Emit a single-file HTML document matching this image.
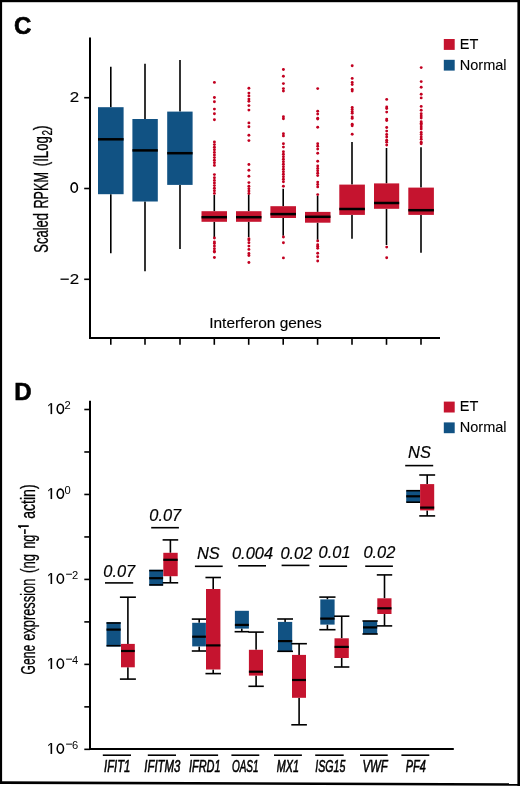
<!DOCTYPE html>
<html><head><meta charset="utf-8"><style>
html,body{margin:0;padding:0;background:#fff;width:520px;height:786px;overflow:hidden;}
svg{position:absolute;left:0;top:0;will-change:transform;}
</style></head><body>

<svg width="520" height="786" viewBox="0 0 520 786">
<text x="14" y="33.6" font-family='"Liberation Sans", sans-serif' font-weight="bold" font-size="24" stroke="#000" stroke-width="0.6">C</text>
<line x1="90" y1="37.4" x2="90" y2="339" stroke="#000" stroke-width="2"/>
<line x1="89" y1="338" x2="440" y2="338" stroke="#000" stroke-width="2"/>
<line x1="84.2" y1="97.7" x2="90" y2="97.7" stroke="#000" stroke-width="1.6"/>
<text x="69.65" y="102.45" font-family='"Liberation Sans", sans-serif' font-size="15.2" stroke="#000" stroke-width="0.15" textLength="9.4" lengthAdjust="spacingAndGlyphs">2</text>
<line x1="84.2" y1="188.5" x2="90" y2="188.5" stroke="#000" stroke-width="1.6"/>
<ellipse cx="74.25" cy="187.6" rx="3.15" ry="4.7" stroke="#000" stroke-width="1.6" fill="none"/>
<line x1="84.2" y1="279.3" x2="90" y2="279.3" stroke="#000" stroke-width="1.6"/>
<text x="69.65" y="284.05" font-family='"Liberation Sans", sans-serif' font-size="15.2" stroke="#000" stroke-width="0.15" textLength="9.4" lengthAdjust="spacingAndGlyphs">2</text>
<line x1="60.5" y1="279.2" x2="68.8" y2="279.2" stroke="#000" stroke-width="1.3"/>
<line x1="110.8" y1="66.7" x2="110.8" y2="107.2" stroke="#000" stroke-width="1.6"/>
<line x1="110.8" y1="194.2" x2="110.8" y2="253.2" stroke="#000" stroke-width="1.6"/>
<rect x="98.0" y="107.2" width="25.6" height="87.0" fill="#115283"/>
<line x1="98.0" y1="139.3" x2="123.6" y2="139.3" stroke="#000" stroke-width="2.5"/>
<line x1="110.8" y1="339" x2="110.8" y2="344.8" stroke="#000" stroke-width="1.6"/>
<line x1="145.0" y1="63.8" x2="145.0" y2="119.0" stroke="#000" stroke-width="1.6"/>
<line x1="145.0" y1="201.5" x2="145.0" y2="271.2" stroke="#000" stroke-width="1.6"/>
<rect x="132.4" y="119.0" width="25.4" height="82.5" fill="#115283"/>
<line x1="132.4" y1="150.4" x2="157.8" y2="150.4" stroke="#000" stroke-width="2.5"/>
<line x1="145.0" y1="339" x2="145.0" y2="344.8" stroke="#000" stroke-width="1.6"/>
<line x1="180.0" y1="59.9" x2="180.0" y2="111.6" stroke="#000" stroke-width="1.6"/>
<line x1="180.0" y1="184.9" x2="180.0" y2="249.1" stroke="#000" stroke-width="1.6"/>
<rect x="167.2" y="111.6" width="25.4" height="73.3" fill="#115283"/>
<line x1="167.2" y1="153.2" x2="192.6" y2="153.2" stroke="#000" stroke-width="2.5"/>
<line x1="180.0" y1="339" x2="180.0" y2="344.8" stroke="#000" stroke-width="1.6"/>
<line x1="214.3" y1="195.0" x2="214.3" y2="211.2" stroke="#000" stroke-width="1.6"/>
<line x1="214.3" y1="221.8" x2="214.3" y2="237.0" stroke="#000" stroke-width="1.6"/>
<rect x="201.5" y="211.2" width="25.5" height="10.6" fill="#C5142F"/>
<line x1="201.5" y1="217.2" x2="227.0" y2="217.2" stroke="#000" stroke-width="2.5"/>
<line x1="214.3" y1="339" x2="214.3" y2="344.8" stroke="#000" stroke-width="1.6"/>
<line x1="248.7" y1="194.5" x2="248.7" y2="211.2" stroke="#000" stroke-width="1.6"/>
<line x1="248.7" y1="221.8" x2="248.7" y2="237.0" stroke="#000" stroke-width="1.6"/>
<rect x="236.0" y="211.2" width="25.5" height="10.6" fill="#C5142F"/>
<line x1="236.0" y1="217.2" x2="261.5" y2="217.2" stroke="#000" stroke-width="2.5"/>
<line x1="248.7" y1="339" x2="248.7" y2="344.8" stroke="#000" stroke-width="1.6"/>
<line x1="283.2" y1="188.7" x2="283.2" y2="206.2" stroke="#000" stroke-width="1.6"/>
<line x1="283.2" y1="218.0" x2="283.2" y2="235.8" stroke="#000" stroke-width="1.6"/>
<rect x="270.4" y="206.2" width="25.6" height="11.8" fill="#C5142F"/>
<line x1="270.4" y1="214.1" x2="296.0" y2="214.1" stroke="#000" stroke-width="2.5"/>
<line x1="283.2" y1="339" x2="283.2" y2="344.8" stroke="#000" stroke-width="1.6"/>
<line x1="317.6" y1="195.7" x2="317.6" y2="211.9" stroke="#000" stroke-width="1.6"/>
<line x1="317.6" y1="222.7" x2="317.6" y2="239.8" stroke="#000" stroke-width="1.6"/>
<rect x="305.0" y="211.9" width="25.5" height="10.8" fill="#C5142F"/>
<line x1="305.0" y1="216.8" x2="330.5" y2="216.8" stroke="#000" stroke-width="2.5"/>
<line x1="317.6" y1="339" x2="317.6" y2="344.8" stroke="#000" stroke-width="1.6"/>
<line x1="352.0" y1="142.1" x2="352.0" y2="184.6" stroke="#000" stroke-width="1.6"/>
<line x1="352.0" y1="214.9" x2="352.0" y2="238.8" stroke="#000" stroke-width="1.6"/>
<rect x="339.3" y="184.6" width="25.6" height="30.3" fill="#C5142F"/>
<line x1="339.3" y1="209.0" x2="364.9" y2="209.0" stroke="#000" stroke-width="2.5"/>
<line x1="352.0" y1="339" x2="352.0" y2="344.8" stroke="#000" stroke-width="1.6"/>
<line x1="386.5" y1="148.0" x2="386.5" y2="183.4" stroke="#000" stroke-width="1.6"/>
<line x1="386.5" y1="208.8" x2="386.5" y2="245.0" stroke="#000" stroke-width="1.6"/>
<rect x="374.0" y="183.4" width="25.2" height="25.4" fill="#C5142F"/>
<line x1="374.0" y1="203.0" x2="399.2" y2="203.0" stroke="#000" stroke-width="2.5"/>
<line x1="386.5" y1="339" x2="386.5" y2="344.8" stroke="#000" stroke-width="1.6"/>
<line x1="421.0" y1="147.3" x2="421.0" y2="187.6" stroke="#000" stroke-width="1.6"/>
<line x1="421.0" y1="214.9" x2="421.0" y2="252.8" stroke="#000" stroke-width="1.6"/>
<rect x="408.3" y="187.6" width="25.6" height="27.3" fill="#C5142F"/>
<line x1="408.3" y1="210.2" x2="433.9" y2="210.2" stroke="#000" stroke-width="2.5"/>
<line x1="421.0" y1="339" x2="421.0" y2="344.8" stroke="#000" stroke-width="1.6"/>
<circle cx="214.4" cy="82.4" r="1.45" fill="#C20020"/>
<circle cx="214.4" cy="97.5" r="1.45" fill="#C20020"/>
<circle cx="214.4" cy="101.7" r="1.45" fill="#C20020"/>
<circle cx="214.4" cy="109.1" r="1.45" fill="#C20020"/>
<circle cx="214.4" cy="113.8" r="1.45" fill="#C20020"/>
<circle cx="214.4" cy="119.7" r="1.45" fill="#C20020"/>
<circle cx="214.4" cy="142.0" r="1.45" fill="#C20020"/>
<circle cx="214.4" cy="144.6" r="1.45" fill="#C20020"/>
<circle cx="214.4" cy="147.2" r="1.45" fill="#C20020"/>
<circle cx="214.4" cy="149.8" r="1.45" fill="#C20020"/>
<circle cx="214.4" cy="152.4" r="1.45" fill="#C20020"/>
<circle cx="214.4" cy="155.0" r="1.45" fill="#C20020"/>
<circle cx="214.4" cy="157.6" r="1.45" fill="#C20020"/>
<circle cx="214.4" cy="160.2" r="1.45" fill="#C20020"/>
<circle cx="214.4" cy="162.8" r="1.45" fill="#C20020"/>
<circle cx="214.4" cy="165.4" r="1.45" fill="#C20020"/>
<circle cx="214.4" cy="174.6" r="1.45" fill="#C20020"/>
<circle cx="214.4" cy="177.8" r="1.45" fill="#C20020"/>
<circle cx="214.4" cy="180.4" r="1.45" fill="#C20020"/>
<circle cx="214.4" cy="183.0" r="1.45" fill="#C20020"/>
<circle cx="214.4" cy="185.6" r="1.45" fill="#C20020"/>
<circle cx="214.4" cy="188.2" r="1.45" fill="#C20020"/>
<circle cx="214.4" cy="190.8" r="1.45" fill="#C20020"/>
<circle cx="214.4" cy="193.4" r="1.45" fill="#C20020"/>
<circle cx="214.4" cy="238.0" r="1.45" fill="#C20020"/>
<circle cx="214.4" cy="242.0" r="1.45" fill="#C20020"/>
<circle cx="214.4" cy="243.6" r="1.45" fill="#C20020"/>
<circle cx="214.4" cy="246.1" r="1.45" fill="#C20020"/>
<circle cx="214.4" cy="248.8" r="1.45" fill="#C20020"/>
<circle cx="214.4" cy="251.2" r="1.45" fill="#C20020"/>
<circle cx="214.4" cy="252.1" r="1.45" fill="#C20020"/>
<circle cx="214.4" cy="257.5" r="1.45" fill="#C20020"/>
<circle cx="248.9" cy="88.2" r="1.45" fill="#C20020"/>
<circle cx="248.9" cy="93.1" r="1.45" fill="#C20020"/>
<circle cx="248.9" cy="95.9" r="1.45" fill="#C20020"/>
<circle cx="248.9" cy="99.1" r="1.45" fill="#C20020"/>
<circle cx="248.9" cy="101.2" r="1.45" fill="#C20020"/>
<circle cx="248.9" cy="105.6" r="1.45" fill="#C20020"/>
<circle cx="248.9" cy="110.1" r="1.45" fill="#C20020"/>
<circle cx="248.9" cy="122.9" r="1.45" fill="#C20020"/>
<circle cx="248.9" cy="126.7" r="1.45" fill="#C20020"/>
<circle cx="248.9" cy="135.3" r="1.45" fill="#C20020"/>
<circle cx="248.9" cy="140.6" r="1.45" fill="#C20020"/>
<circle cx="248.9" cy="164.5" r="1.45" fill="#C20020"/>
<circle cx="248.9" cy="170.3" r="1.45" fill="#C20020"/>
<circle cx="248.9" cy="176.3" r="1.45" fill="#C20020"/>
<circle cx="248.9" cy="182.6" r="1.45" fill="#C20020"/>
<circle cx="248.9" cy="186.3" r="1.45" fill="#C20020"/>
<circle cx="248.9" cy="188.7" r="1.45" fill="#C20020"/>
<circle cx="248.9" cy="191.1" r="1.45" fill="#C20020"/>
<circle cx="248.9" cy="193.5" r="1.45" fill="#C20020"/>
<circle cx="248.9" cy="238.7" r="1.45" fill="#C20020"/>
<circle cx="248.9" cy="240.0" r="1.45" fill="#C20020"/>
<circle cx="248.9" cy="242.7" r="1.45" fill="#C20020"/>
<circle cx="248.9" cy="246.1" r="1.45" fill="#C20020"/>
<circle cx="248.9" cy="249.4" r="1.45" fill="#C20020"/>
<circle cx="248.9" cy="253.5" r="1.45" fill="#C20020"/>
<circle cx="248.9" cy="255.5" r="1.45" fill="#C20020"/>
<circle cx="248.9" cy="262.5" r="1.45" fill="#C20020"/>
<circle cx="283.4" cy="69.5" r="1.45" fill="#C20020"/>
<circle cx="283.4" cy="76.2" r="1.45" fill="#C20020"/>
<circle cx="283.4" cy="83.6" r="1.45" fill="#C20020"/>
<circle cx="283.4" cy="88.6" r="1.45" fill="#C20020"/>
<circle cx="283.4" cy="91.0" r="1.45" fill="#C20020"/>
<circle cx="283.4" cy="116.8" r="1.45" fill="#C20020"/>
<circle cx="283.4" cy="118.8" r="1.45" fill="#C20020"/>
<circle cx="283.4" cy="133.7" r="1.45" fill="#C20020"/>
<circle cx="283.4" cy="135.9" r="1.45" fill="#C20020"/>
<circle cx="283.4" cy="143.8" r="1.45" fill="#C20020"/>
<circle cx="283.4" cy="147.1" r="1.45" fill="#C20020"/>
<circle cx="283.4" cy="151.8" r="1.45" fill="#C20020"/>
<circle cx="283.4" cy="154.3" r="1.45" fill="#C20020"/>
<circle cx="283.4" cy="156.8" r="1.45" fill="#C20020"/>
<circle cx="283.4" cy="159.3" r="1.45" fill="#C20020"/>
<circle cx="283.4" cy="161.8" r="1.45" fill="#C20020"/>
<circle cx="283.4" cy="164.3" r="1.45" fill="#C20020"/>
<circle cx="283.4" cy="166.8" r="1.45" fill="#C20020"/>
<circle cx="283.4" cy="169.3" r="1.45" fill="#C20020"/>
<circle cx="283.4" cy="171.8" r="1.45" fill="#C20020"/>
<circle cx="283.4" cy="174.3" r="1.45" fill="#C20020"/>
<circle cx="283.4" cy="176.8" r="1.45" fill="#C20020"/>
<circle cx="283.4" cy="179.3" r="1.45" fill="#C20020"/>
<circle cx="283.4" cy="181.8" r="1.45" fill="#C20020"/>
<circle cx="283.4" cy="186.2" r="1.45" fill="#C20020"/>
<circle cx="283.4" cy="237.0" r="1.45" fill="#C20020"/>
<circle cx="283.4" cy="242.8" r="1.45" fill="#C20020"/>
<circle cx="283.4" cy="257.9" r="1.45" fill="#C20020"/>
<circle cx="317.7" cy="88.6" r="1.45" fill="#C20020"/>
<circle cx="317.7" cy="111.2" r="1.45" fill="#C20020"/>
<circle cx="317.7" cy="114.1" r="1.45" fill="#C20020"/>
<circle cx="317.7" cy="118.2" r="1.45" fill="#C20020"/>
<circle cx="317.7" cy="119.1" r="1.45" fill="#C20020"/>
<circle cx="317.7" cy="127.2" r="1.45" fill="#C20020"/>
<circle cx="317.7" cy="143.8" r="1.45" fill="#C20020"/>
<circle cx="317.7" cy="146.3" r="1.45" fill="#C20020"/>
<circle cx="317.7" cy="149.1" r="1.45" fill="#C20020"/>
<circle cx="317.7" cy="153.2" r="1.45" fill="#C20020"/>
<circle cx="317.7" cy="161.3" r="1.45" fill="#C20020"/>
<circle cx="317.7" cy="166.0" r="1.45" fill="#C20020"/>
<circle cx="317.7" cy="168.4" r="1.45" fill="#C20020"/>
<circle cx="317.7" cy="170.8" r="1.45" fill="#C20020"/>
<circle cx="317.7" cy="173.2" r="1.45" fill="#C20020"/>
<circle cx="317.7" cy="175.6" r="1.45" fill="#C20020"/>
<circle cx="317.7" cy="182.1" r="1.45" fill="#C20020"/>
<circle cx="317.7" cy="184.5" r="1.45" fill="#C20020"/>
<circle cx="317.7" cy="186.9" r="1.45" fill="#C20020"/>
<circle cx="317.7" cy="194.6" r="1.45" fill="#C20020"/>
<circle cx="317.7" cy="240.9" r="1.45" fill="#C20020"/>
<circle cx="317.7" cy="244.8" r="1.45" fill="#C20020"/>
<circle cx="317.7" cy="246.2" r="1.45" fill="#C20020"/>
<circle cx="317.7" cy="248.2" r="1.45" fill="#C20020"/>
<circle cx="317.7" cy="253.3" r="1.45" fill="#C20020"/>
<circle cx="317.7" cy="256.7" r="1.45" fill="#C20020"/>
<circle cx="317.7" cy="261.0" r="1.45" fill="#C20020"/>
<circle cx="352.2" cy="65.7" r="1.45" fill="#C20020"/>
<circle cx="352.2" cy="78.4" r="1.45" fill="#C20020"/>
<circle cx="352.2" cy="82.5" r="1.45" fill="#C20020"/>
<circle cx="352.2" cy="84.6" r="1.45" fill="#C20020"/>
<circle cx="352.2" cy="89.4" r="1.45" fill="#C20020"/>
<circle cx="352.2" cy="91.1" r="1.45" fill="#C20020"/>
<circle cx="352.2" cy="107.4" r="1.45" fill="#C20020"/>
<circle cx="352.2" cy="109.5" r="1.45" fill="#C20020"/>
<circle cx="352.2" cy="111.6" r="1.45" fill="#C20020"/>
<circle cx="352.2" cy="113.3" r="1.45" fill="#C20020"/>
<circle cx="352.2" cy="116.9" r="1.45" fill="#C20020"/>
<circle cx="352.2" cy="118.4" r="1.45" fill="#C20020"/>
<circle cx="352.2" cy="124.3" r="1.45" fill="#C20020"/>
<circle cx="352.2" cy="125.8" r="1.45" fill="#C20020"/>
<circle cx="352.2" cy="134.3" r="1.45" fill="#C20020"/>
<circle cx="386.7" cy="99.4" r="1.45" fill="#C20020"/>
<circle cx="386.7" cy="107.0" r="1.45" fill="#C20020"/>
<circle cx="386.7" cy="108.5" r="1.45" fill="#C20020"/>
<circle cx="386.7" cy="112.1" r="1.45" fill="#C20020"/>
<circle cx="386.7" cy="119.1" r="1.45" fill="#C20020"/>
<circle cx="386.7" cy="120.5" r="1.45" fill="#C20020"/>
<circle cx="386.7" cy="127.5" r="1.45" fill="#C20020"/>
<circle cx="386.7" cy="131.1" r="1.45" fill="#C20020"/>
<circle cx="386.7" cy="134.5" r="1.45" fill="#C20020"/>
<circle cx="386.7" cy="137.0" r="1.45" fill="#C20020"/>
<circle cx="386.7" cy="140.2" r="1.45" fill="#C20020"/>
<circle cx="386.7" cy="142.3" r="1.45" fill="#C20020"/>
<circle cx="386.7" cy="145.1" r="1.45" fill="#C20020"/>
<circle cx="386.7" cy="247.1" r="1.45" fill="#C20020"/>
<circle cx="386.7" cy="257.7" r="1.45" fill="#C20020"/>
<circle cx="421.2" cy="67.6" r="1.45" fill="#C20020"/>
<circle cx="421.2" cy="81.6" r="1.45" fill="#C20020"/>
<circle cx="421.2" cy="87.3" r="1.45" fill="#C20020"/>
<circle cx="421.2" cy="94.3" r="1.45" fill="#C20020"/>
<circle cx="421.2" cy="97.9" r="1.45" fill="#C20020"/>
<circle cx="421.2" cy="106.4" r="1.45" fill="#C20020"/>
<circle cx="421.2" cy="110.2" r="1.45" fill="#C20020"/>
<circle cx="421.2" cy="113.8" r="1.45" fill="#C20020"/>
<circle cx="421.2" cy="115.9" r="1.45" fill="#C20020"/>
<circle cx="421.2" cy="118.0" r="1.45" fill="#C20020"/>
<circle cx="421.2" cy="121.8" r="1.45" fill="#C20020"/>
<circle cx="421.2" cy="123.3" r="1.45" fill="#C20020"/>
<circle cx="421.2" cy="124.8" r="1.45" fill="#C20020"/>
<circle cx="421.2" cy="126.9" r="1.45" fill="#C20020"/>
<circle cx="421.2" cy="129.0" r="1.45" fill="#C20020"/>
<circle cx="421.2" cy="132.4" r="1.45" fill="#C20020"/>
<circle cx="421.2" cy="134.5" r="1.45" fill="#C20020"/>
<circle cx="421.2" cy="137.0" r="1.45" fill="#C20020"/>
<circle cx="421.2" cy="139.2" r="1.45" fill="#C20020"/>
<circle cx="421.2" cy="142.3" r="1.45" fill="#C20020"/>
<circle cx="421.2" cy="143.8" r="1.45" fill="#C20020"/>
<text transform="translate(47.9,252.7) rotate(-90)" font-family='"Liberation Sans", sans-serif' font-size="19.3" stroke="#000" stroke-width="0.3" textLength="39.7" lengthAdjust="spacingAndGlyphs" >Scaled</text>
<text transform="translate(47.9,208.5) rotate(-90)" font-family='"Liberation Sans", sans-serif' font-size="19.3" stroke="#000" stroke-width="0.3" textLength="36.5" lengthAdjust="spacingAndGlyphs" >RPKM</text>
<text transform="translate(47.9,166.2) rotate(-90)" font-family='"Liberation Sans", sans-serif' font-size="19.3" stroke="#000" stroke-width="0.3" textLength="30.05" lengthAdjust="spacingAndGlyphs" >(ILog</text>
<text transform="translate(52.0,135.6) rotate(-90)" font-family='"Liberation Sans", sans-serif' font-size="15" stroke="#000" stroke-width="0.3" textLength="5.45" lengthAdjust="spacingAndGlyphs" >2</text>
<text transform="translate(47.9,130.35) rotate(-90)" font-family='"Liberation Sans", sans-serif' font-size="19.3" stroke="#000" stroke-width="0.3" textLength="4.95" lengthAdjust="spacingAndGlyphs" >)</text>
<text x="209.2" y="328.1" font-family='"Liberation Sans", sans-serif' font-size="15.2" stroke="#000" stroke-width="0.15" textLength="112.6" lengthAdjust="spacingAndGlyphs">Interferon genes</text>
<rect x="443.8" y="39.0" width="10.9" height="10.9" fill="#C5142F"/>
<rect x="443.8" y="59.8" width="10.9" height="10.8" fill="#115283"/>
<text x="459.8" y="48.7" font-family='"Liberation Sans", sans-serif' font-size="14.5" stroke="#000" stroke-width="0.1">ET</text>
<text x="459.8" y="69.5" font-family='"Liberation Sans", sans-serif' font-size="14.5" stroke="#000" stroke-width="0.1">Normal</text>
<text x="14.2" y="400.4" font-family='"Liberation Sans", sans-serif' font-weight="bold" font-size="24" stroke="#000" stroke-width="0.6">D</text>
<line x1="90" y1="400.8" x2="90" y2="750" stroke="#000" stroke-width="2"/>
<line x1="89" y1="749" x2="453.8" y2="749" stroke="#000" stroke-width="2"/>
<line x1="84.3" y1="409.5" x2="90" y2="409.5" stroke="#000" stroke-width="1.6"/>
<path d="M51.35,403.3 L51.35,414.1" stroke="#000" stroke-width="1.6" fill="none"/>
<path d="M52.1,403.2 L48.2,406.5 L48.2,405.2 L50.6,403.2 Z" fill="#000"/>
<ellipse cx="60.35" cy="408.75" rx="3.15" ry="4.6" stroke="#000" stroke-width="1.55" fill="none"/>
<text x="64.6" y="408.7" font-family='"Liberation Sans", sans-serif' font-size="10.2" textLength="6.2" lengthAdjust="spacingAndGlyphs">2</text>
<line x1="84.3" y1="451.98" x2="90" y2="451.98" stroke="#000" stroke-width="1.6"/>
<line x1="84.3" y1="494.46" x2="90" y2="494.46" stroke="#000" stroke-width="1.6"/>
<path d="M51.35,488.26 L51.35,499.06" stroke="#000" stroke-width="1.6" fill="none"/>
<path d="M52.1,488.16 L48.2,491.46 L48.2,490.16 L50.6,488.16 Z" fill="#000"/>
<ellipse cx="60.35" cy="493.71" rx="3.15" ry="4.6" stroke="#000" stroke-width="1.55" fill="none"/>
<text x="64.6" y="493.65999999999997" font-family='"Liberation Sans", sans-serif' font-size="10.2" textLength="6.2" lengthAdjust="spacingAndGlyphs">0</text>
<line x1="84.3" y1="536.94" x2="90" y2="536.94" stroke="#000" stroke-width="1.6"/>
<line x1="84.3" y1="579.42" x2="90" y2="579.42" stroke="#000" stroke-width="1.6"/>
<path d="M51.35,573.22 L51.35,584.02" stroke="#000" stroke-width="1.6" fill="none"/>
<path d="M52.1,573.12 L48.2,576.42 L48.2,575.12 L50.6,573.12 Z" fill="#000"/>
<ellipse cx="60.35" cy="578.67" rx="3.15" ry="4.6" stroke="#000" stroke-width="1.55" fill="none"/>
<line x1="66.1" y1="574.2199999999999" x2="72.0" y2="574.2199999999999" stroke="#000" stroke-width="1.0"/>
<text x="72.0" y="578.62" font-family='"Liberation Sans", sans-serif' font-size="10.2" textLength="6.2" lengthAdjust="spacingAndGlyphs">2</text>
<line x1="84.3" y1="621.9" x2="90" y2="621.9" stroke="#000" stroke-width="1.6"/>
<line x1="84.3" y1="664.38" x2="90" y2="664.38" stroke="#000" stroke-width="1.6"/>
<path d="M51.35,658.18 L51.35,668.98" stroke="#000" stroke-width="1.6" fill="none"/>
<path d="M52.1,658.08 L48.2,661.38 L48.2,660.08 L50.6,658.08 Z" fill="#000"/>
<ellipse cx="60.35" cy="663.63" rx="3.15" ry="4.6" stroke="#000" stroke-width="1.55" fill="none"/>
<line x1="66.1" y1="659.18" x2="72.0" y2="659.18" stroke="#000" stroke-width="1.0"/>
<text x="72.0" y="663.58" font-family='"Liberation Sans", sans-serif' font-size="10.2" textLength="6.2" lengthAdjust="spacingAndGlyphs">4</text>
<line x1="84.3" y1="706.8599999999999" x2="90" y2="706.8599999999999" stroke="#000" stroke-width="1.6"/>
<line x1="84.3" y1="749.3399999999999" x2="90" y2="749.3399999999999" stroke="#000" stroke-width="1.6"/>
<path d="M51.35,743.14 L51.35,753.94" stroke="#000" stroke-width="1.6" fill="none"/>
<path d="M52.1,743.04 L48.2,746.34 L48.2,745.04 L50.6,743.04 Z" fill="#000"/>
<ellipse cx="60.35" cy="748.59" rx="3.15" ry="4.6" stroke="#000" stroke-width="1.55" fill="none"/>
<line x1="66.1" y1="744.1399999999999" x2="72.0" y2="744.1399999999999" stroke="#000" stroke-width="1.0"/>
<text x="72.0" y="748.54" font-family='"Liberation Sans", sans-serif' font-size="10.2" textLength="6.2" lengthAdjust="spacingAndGlyphs">6</text>
<rect x="443.8" y="401.6" width="10.9" height="10.9" fill="#C5142F"/>
<rect x="443.8" y="422.40000000000003" width="10.9" height="10.8" fill="#115283"/>
<text x="459.8" y="411.3" font-family='"Liberation Sans", sans-serif' font-size="14.5" stroke="#000" stroke-width="0.1">ET</text>
<text x="459.8" y="432.1" font-family='"Liberation Sans", sans-serif' font-size="14.5" stroke="#000" stroke-width="0.1">Normal</text>
<rect x="106.5" y="622.2" width="14.2" height="24.3" fill="#115283"/>
<line x1="106.5" y1="629.6" x2="120.7" y2="629.6" stroke="#000" stroke-width="2.2"/>
<line x1="106.5" y1="623.0" x2="120.69999999999999" y2="623.0" stroke="#000" stroke-width="1.6"/>
<line x1="106.5" y1="645.7" x2="120.69999999999999" y2="645.7" stroke="#000" stroke-width="1.6"/>
<line x1="127.9" y1="597.2" x2="127.9" y2="643.9" stroke="#000" stroke-width="1.6"/>
<line x1="127.9" y1="667.3" x2="127.9" y2="679.1" stroke="#000" stroke-width="1.6"/>
<rect x="121.0" y="643.9" width="13.8" height="23.4" fill="#C5142F"/>
<line x1="121.0" y1="651.0" x2="134.8" y2="651.0" stroke="#000" stroke-width="2.2"/>
<line x1="119.9" y1="597.2" x2="135.9" y2="597.2" stroke="#000" stroke-width="1.6"/>
<line x1="119.9" y1="679.1" x2="135.9" y2="679.1" stroke="#000" stroke-width="1.6"/>
<rect x="149.2" y="569.8" width="13.9" height="15.8" fill="#115283"/>
<line x1="149.2" y1="578.2" x2="163.1" y2="578.2" stroke="#000" stroke-width="2.2"/>
<line x1="149.25" y1="570.6" x2="163.14999999999998" y2="570.6" stroke="#000" stroke-width="1.6"/>
<line x1="149.25" y1="584.9" x2="163.14999999999998" y2="584.9" stroke="#000" stroke-width="1.6"/>
<line x1="170.4" y1="539.9" x2="170.4" y2="552.8" stroke="#000" stroke-width="1.6"/>
<line x1="170.4" y1="576.2" x2="170.4" y2="582.8" stroke="#000" stroke-width="1.6"/>
<rect x="163.3" y="552.8" width="14.4" height="23.4" fill="#C5142F"/>
<line x1="163.3" y1="559.8" x2="177.7" y2="559.8" stroke="#000" stroke-width="2.2"/>
<line x1="162.6" y1="539.9" x2="178.20000000000002" y2="539.9" stroke="#000" stroke-width="1.6"/>
<line x1="162.6" y1="582.8" x2="178.20000000000002" y2="582.8" stroke="#000" stroke-width="1.6"/>
<line x1="199.2" y1="619.1" x2="199.2" y2="622.8" stroke="#000" stroke-width="1.6"/>
<line x1="199.2" y1="646.4" x2="199.2" y2="651.0" stroke="#000" stroke-width="1.6"/>
<rect x="192.2" y="622.8" width="13.7" height="23.6" fill="#115283"/>
<line x1="192.2" y1="636.7" x2="205.9" y2="636.7" stroke="#000" stroke-width="2.2"/>
<line x1="191.79999999999998" y1="619.1" x2="206.6" y2="619.1" stroke="#000" stroke-width="1.6"/>
<line x1="191.79999999999998" y1="651.0" x2="206.6" y2="651.0" stroke="#000" stroke-width="1.6"/>
<line x1="213.2" y1="577.5" x2="213.2" y2="589.0" stroke="#000" stroke-width="1.6"/>
<line x1="213.2" y1="669.5" x2="213.2" y2="673.6" stroke="#000" stroke-width="1.6"/>
<rect x="206.0" y="589.0" width="14.4" height="80.5" fill="#C5142F"/>
<line x1="206.0" y1="645.4" x2="220.4" y2="645.4" stroke="#000" stroke-width="2.2"/>
<line x1="205.45" y1="577.5" x2="220.95" y2="577.5" stroke="#000" stroke-width="1.6"/>
<line x1="205.45" y1="673.6" x2="220.95" y2="673.6" stroke="#000" stroke-width="1.6"/>
<line x1="241.8" y1="628.6" x2="241.8" y2="631.7" stroke="#000" stroke-width="1.6"/>
<rect x="234.9" y="610.8" width="14.0" height="17.8" fill="#115283"/>
<line x1="234.9" y1="624.9" x2="248.9" y2="624.9" stroke="#000" stroke-width="2.2"/>
<line x1="234.60000000000002" y1="631.7" x2="249.0" y2="631.7" stroke="#000" stroke-width="1.6"/>
<line x1="256.1" y1="632.1" x2="256.1" y2="649.8" stroke="#000" stroke-width="1.6"/>
<line x1="256.1" y1="675.6" x2="256.1" y2="686.3" stroke="#000" stroke-width="1.6"/>
<rect x="248.9" y="649.8" width="14.1" height="25.8" fill="#C5142F"/>
<line x1="248.9" y1="671.7" x2="263.0" y2="671.7" stroke="#000" stroke-width="2.2"/>
<line x1="248.40000000000003" y1="632.1" x2="263.8" y2="632.1" stroke="#000" stroke-width="1.6"/>
<line x1="248.40000000000003" y1="686.3" x2="263.8" y2="686.3" stroke="#000" stroke-width="1.6"/>
<line x1="285.1" y1="619.0" x2="285.1" y2="621.9" stroke="#000" stroke-width="1.6"/>
<rect x="278.0" y="621.9" width="14.2" height="29.1" fill="#115283"/>
<line x1="278.0" y1="641.1" x2="292.2" y2="641.1" stroke="#000" stroke-width="2.2"/>
<line x1="277.20000000000005" y1="619.0" x2="293.0" y2="619.0" stroke="#000" stroke-width="1.6"/>
<line x1="277.20000000000005" y1="651.3" x2="293.0" y2="651.3" stroke="#000" stroke-width="1.6"/>
<line x1="299.1" y1="643.7" x2="299.1" y2="654.9" stroke="#000" stroke-width="1.6"/>
<line x1="299.1" y1="697.8" x2="299.1" y2="724.8" stroke="#000" stroke-width="1.6"/>
<rect x="292.0" y="654.9" width="14.0" height="42.9" fill="#C5142F"/>
<line x1="292.0" y1="680.0" x2="306.0" y2="680.0" stroke="#000" stroke-width="2.2"/>
<line x1="291.3" y1="643.7" x2="306.90000000000003" y2="643.7" stroke="#000" stroke-width="1.6"/>
<line x1="291.3" y1="724.8" x2="306.90000000000003" y2="724.8" stroke="#000" stroke-width="1.6"/>
<line x1="327.4" y1="597.1" x2="327.4" y2="599.4" stroke="#000" stroke-width="1.6"/>
<line x1="327.4" y1="624.6" x2="327.4" y2="629.7" stroke="#000" stroke-width="1.6"/>
<rect x="320.3" y="599.4" width="14.3" height="25.2" fill="#115283"/>
<line x1="320.3" y1="618.6" x2="334.6" y2="618.6" stroke="#000" stroke-width="2.2"/>
<line x1="319.29999999999995" y1="597.1" x2="335.5" y2="597.1" stroke="#000" stroke-width="1.6"/>
<line x1="319.29999999999995" y1="629.7" x2="335.5" y2="629.7" stroke="#000" stroke-width="1.6"/>
<line x1="341.7" y1="616.2" x2="341.7" y2="638.3" stroke="#000" stroke-width="1.6"/>
<line x1="341.7" y1="658.0" x2="341.7" y2="667.0" stroke="#000" stroke-width="1.6"/>
<rect x="334.5" y="638.3" width="14.3" height="19.7" fill="#C5142F"/>
<line x1="334.5" y1="646.9" x2="348.8" y2="646.9" stroke="#000" stroke-width="2.2"/>
<line x1="334.05" y1="616.2" x2="349.34999999999997" y2="616.2" stroke="#000" stroke-width="1.6"/>
<line x1="334.05" y1="667.0" x2="349.34999999999997" y2="667.0" stroke="#000" stroke-width="1.6"/>
<rect x="363.0" y="621.0" width="14.2" height="13.0" fill="#115283"/>
<line x1="363.0" y1="627.4" x2="377.2" y2="627.4" stroke="#000" stroke-width="2.2"/>
<line x1="362.45000000000005" y1="621.0" x2="377.75" y2="621.0" stroke="#000" stroke-width="1.6"/>
<line x1="362.45000000000005" y1="634.0" x2="377.75" y2="634.0" stroke="#000" stroke-width="1.6"/>
<line x1="384.5" y1="574.9" x2="384.5" y2="598.3" stroke="#000" stroke-width="1.6"/>
<line x1="384.5" y1="614.0" x2="384.5" y2="625.9" stroke="#000" stroke-width="1.6"/>
<rect x="377.3" y="598.3" width="14.2" height="15.7" fill="#C5142F"/>
<line x1="377.3" y1="608.3" x2="391.5" y2="608.3" stroke="#000" stroke-width="2.2"/>
<line x1="376.8" y1="574.9" x2="392.2" y2="574.9" stroke="#000" stroke-width="1.6"/>
<line x1="376.8" y1="625.9" x2="392.2" y2="625.9" stroke="#000" stroke-width="1.6"/>
<rect x="406.2" y="490.7" width="13.9" height="11.5" fill="#115283"/>
<line x1="406.2" y1="496.3" x2="420.1" y2="496.3" stroke="#000" stroke-width="2.2"/>
<line x1="406.25" y1="490.7" x2="420.15" y2="490.7" stroke="#000" stroke-width="1.6"/>
<line x1="406.25" y1="502.2" x2="420.15" y2="502.2" stroke="#000" stroke-width="1.6"/>
<line x1="427.2" y1="475.0" x2="427.2" y2="484.1" stroke="#000" stroke-width="1.6"/>
<line x1="427.2" y1="510.4" x2="427.2" y2="515.9" stroke="#000" stroke-width="1.6"/>
<rect x="420.1" y="484.1" width="14.1" height="26.3" fill="#C5142F"/>
<line x1="420.1" y1="507.6" x2="434.2" y2="507.6" stroke="#000" stroke-width="2.2"/>
<line x1="419.25" y1="475.0" x2="435.15" y2="475.0" stroke="#000" stroke-width="1.6"/>
<line x1="419.25" y1="515.9" x2="435.15" y2="515.9" stroke="#000" stroke-width="1.6"/>
<text x="103.3" y="576.7" font-family='"Liberation Sans", sans-serif' font-style="italic" font-size="16.4" stroke="#000" stroke-width="0.2">0.07</text>
<line x1="105.0" y1="582.9" x2="133.2" y2="582.9" stroke="#000" stroke-width="1.6"/>
<text x="149.3" y="521.0" font-family='"Liberation Sans", sans-serif' font-style="italic" font-size="16.4" stroke="#000" stroke-width="0.2">0.07</text>
<line x1="151.2" y1="527.7" x2="178.9" y2="527.7" stroke="#000" stroke-width="1.6"/>
<text x="197.0" y="558.5" font-family='"Liberation Sans", sans-serif' font-style="italic" font-size="16.4" stroke="#000" stroke-width="0.2">NS</text>
<line x1="194.9" y1="566.3" x2="222.7" y2="566.3" stroke="#000" stroke-width="1.6"/>
<text x="232.0" y="558.7" font-family='"Liberation Sans", sans-serif' font-style="italic" font-size="16.4" stroke="#000" stroke-width="0.2">0.004</text>
<line x1="238.2" y1="565.8" x2="266.0" y2="565.8" stroke="#000" stroke-width="1.6"/>
<text x="280.4" y="558.8" font-family='"Liberation Sans", sans-serif' font-style="italic" font-size="16.4" stroke="#000" stroke-width="0.2">0.02</text>
<line x1="281.6" y1="565.4" x2="309.4" y2="565.4" stroke="#000" stroke-width="1.6"/>
<text x="318.6" y="557.8" font-family='"Liberation Sans", sans-serif' font-style="italic" font-size="16.4" stroke="#000" stroke-width="0.2">0.01</text>
<line x1="319.1" y1="566.2" x2="347.1" y2="566.2" stroke="#000" stroke-width="1.6"/>
<text x="363.4" y="558.4" font-family='"Liberation Sans", sans-serif' font-style="italic" font-size="16.4" stroke="#000" stroke-width="0.2">0.02</text>
<line x1="365.2" y1="566.2" x2="392.9" y2="566.2" stroke="#000" stroke-width="1.6"/>
<text x="408.1" y="457.7" font-family='"Liberation Sans", sans-serif' font-style="italic" font-size="16.4" stroke="#000" stroke-width="0.2">NS</text>
<line x1="405.2" y1="465.6" x2="433.2" y2="465.6" stroke="#000" stroke-width="1.6"/>
<line x1="102.8" y1="755.2" x2="131" y2="755.2" stroke="#000" stroke-width="1.6"/>
<text x="104" y="771.8" font-family='"Liberation Sans", sans-serif' font-style="italic" font-size="16.5" stroke="#000" stroke-width="0.6" textLength="26.3" lengthAdjust="spacingAndGlyphs">IFIT1</text>
<line x1="147.8" y1="755.2" x2="176" y2="755.2" stroke="#000" stroke-width="1.6"/>
<text x="144.3" y="771.8" font-family='"Liberation Sans", sans-serif' font-style="italic" font-size="16.5" stroke="#000" stroke-width="0.6" textLength="36.0" lengthAdjust="spacingAndGlyphs">IFITM3</text>
<line x1="190" y1="755.2" x2="218.1" y2="755.2" stroke="#000" stroke-width="1.6"/>
<text x="189" y="771.8" font-family='"Liberation Sans", sans-serif' font-style="italic" font-size="16.5" stroke="#000" stroke-width="0.6" textLength="31.5" lengthAdjust="spacingAndGlyphs">IFRD1</text>
<line x1="231.4" y1="755.2" x2="259.3" y2="755.2" stroke="#000" stroke-width="1.6"/>
<text x="231.9" y="771.8" font-family='"Liberation Sans", sans-serif' font-style="italic" font-size="16.5" stroke="#000" stroke-width="0.6" textLength="26.6" lengthAdjust="spacingAndGlyphs">OAS1</text>
<line x1="274" y1="755.2" x2="301.9" y2="755.2" stroke="#000" stroke-width="1.6"/>
<text x="276.8" y="771.8" font-family='"Liberation Sans", sans-serif' font-style="italic" font-size="16.5" stroke="#000" stroke-width="0.6" textLength="22.1" lengthAdjust="spacingAndGlyphs">MX1</text>
<line x1="315.2" y1="755.2" x2="343.7" y2="755.2" stroke="#000" stroke-width="1.6"/>
<text x="315.2" y="771.8" font-family='"Liberation Sans", sans-serif' font-style="italic" font-size="16.5" stroke="#000" stroke-width="0.6" textLength="30.1" lengthAdjust="spacingAndGlyphs">ISG15</text>
<line x1="360" y1="755.2" x2="387.7" y2="755.2" stroke="#000" stroke-width="1.6"/>
<text x="362.5" y="771.8" font-family='"Liberation Sans", sans-serif' font-style="italic" font-size="16.5" stroke="#000" stroke-width="0.6" textLength="25.2" lengthAdjust="spacingAndGlyphs">VWF</text>
<line x1="401.4" y1="755.2" x2="429.3" y2="755.2" stroke="#000" stroke-width="1.6"/>
<text x="405.7" y="771.8" font-family='"Liberation Sans", sans-serif' font-style="italic" font-size="16.5" stroke="#000" stroke-width="0.6" textLength="20.1" lengthAdjust="spacingAndGlyphs">PF4</text>
<text transform="translate(34.9,674.4) rotate(-90)" font-family='"Liberation Sans", sans-serif' font-size="19.3" stroke="#000" stroke-width="0.3" textLength="29.5" lengthAdjust="spacingAndGlyphs" >Gene</text>
<text transform="translate(34.9,640.8) rotate(-90)" font-family='"Liberation Sans", sans-serif' font-size="19.3" stroke="#000" stroke-width="0.3" textLength="62.2" lengthAdjust="spacingAndGlyphs" >expression</text>
<text transform="translate(34.9,573.0) rotate(-90)" font-family='"Liberation Sans", sans-serif' font-size="19.3" stroke="#000" stroke-width="0.3" textLength="19.2" lengthAdjust="spacingAndGlyphs" >(ng</text>
<text transform="translate(34.9,548.6) rotate(-90)" font-family='"Liberation Sans", sans-serif' font-size="19.3" stroke="#000" stroke-width="0.3" textLength="13.9" lengthAdjust="spacingAndGlyphs" >ng</text>
<line x1="24.9" y1="534.0" x2="24.9" y2="529.2" stroke="#000" stroke-width="1.6"/>
<path d="M18.4,526.1 L28.75,526.1" stroke="#000" stroke-width="1.7" fill="none"/>
<path d="M18.2,525.3 L18.2,527.0 L20.9,528.4 L20.9,526.6 Z" fill="#000"/>
<text transform="translate(34.9,518.8) rotate(-90)" font-family='"Liberation Sans", sans-serif' font-size="19.3" stroke="#000" stroke-width="0.3" textLength="34.4" lengthAdjust="spacingAndGlyphs" >actin)</text>
<rect x="0" y="0" width="520" height="2.2" fill="#000"/>
<rect x="0" y="0" width="2.1" height="784" fill="#000"/>
<rect x="517.4" y="0" width="2.6" height="786" fill="#000"/>
<polygon points="0,781.3 520,783.2 520,785.8 0,783.9" fill="#000"/>
</svg>
</body></html>
